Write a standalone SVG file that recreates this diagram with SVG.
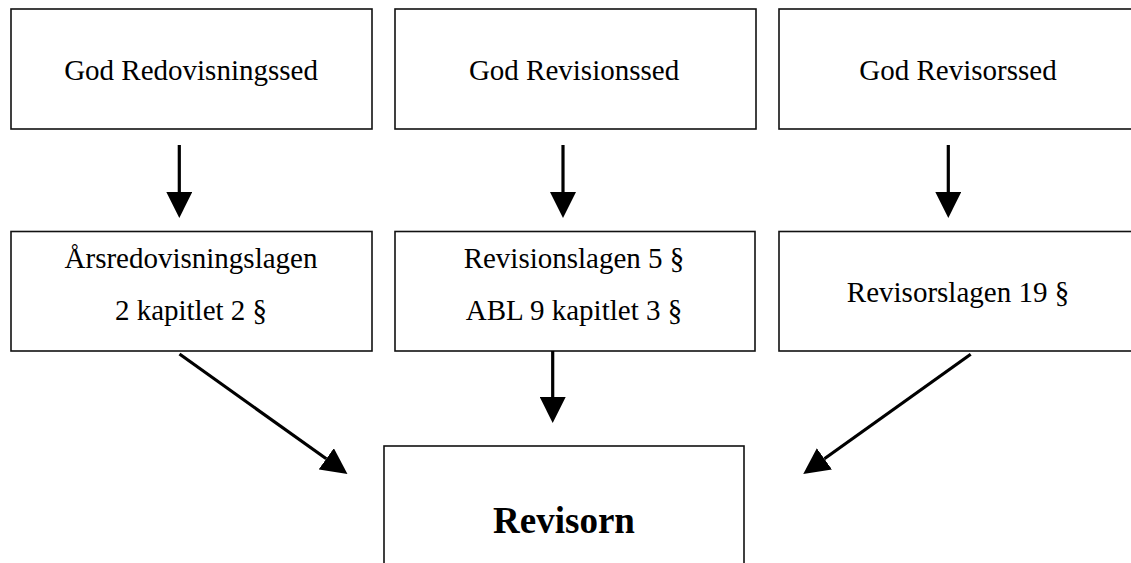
<svg xmlns="http://www.w3.org/2000/svg" width="1131" height="563" viewBox="0 0 1131 563">
<style>
.box{fill:#fff;stroke:#111;stroke-width:1.6}
.t{font-family:"Liberation Serif","Times New Roman",serif;font-size:29px;fill:#000;text-anchor:middle}
.b{font-family:"Liberation Serif","Times New Roman",serif;font-size:37px;font-weight:bold;fill:#000;text-anchor:middle}
.c{stroke:#000;stroke-width:3.2;fill:none;marker-end:url(#ah)}
</style>
<defs>
<marker id="ah" markerUnits="userSpaceOnUse" markerWidth="26" markerHeight="26" refX="0" refY="13" orient="auto" viewBox="0 0 26 26">
<path d="M0,0 L26,13 L0,26 z" fill="#000"/>
</marker>
</defs>
<rect width="1131" height="563" fill="#fff"/>
<g id="n-god-redovisningssed"><rect class="box" x="11" y="9" width="361" height="120"/><text class="t" x="191" y="80">God Redovisningssed</text></g>
<g id="n-god-revisionssed"><rect class="box" x="395" y="9" width="361" height="120"/><text class="t" x="574" y="80">God Revisionssed</text></g>
<g id="n-god-revisorssed"><rect class="box" x="779" y="9" width="358" height="120"/><text class="t" x="958" y="80">God Revisorssed</text></g>
<g id="n-arsredovisningslagen"><rect class="box" x="11" y="231.5" width="361" height="119.5"/><text class="t" x="191" y="268">Årsredovisningslagen</text><text class="t" x="191" y="320">2 kapitlet 2 §</text></g>
<g id="n-revisionslagen"><rect class="box" x="395" y="231.5" width="360" height="119.5"/><text class="t" x="574" y="268">Revisionslagen 5 §</text><text class="t" x="574" y="320">ABL 9 kapitlet 3 §</text></g>
<g id="n-revisorslagen"><rect class="box" x="779" y="231.5" width="358" height="119.5"/><text class="t" x="958" y="302">Revisorslagen 19 §</text></g>
<g id="n-revisorn"><rect class="box" x="384" y="446" width="360" height="130"/><text class="b" x="564" y="533">Revisorn</text></g>
<g id="connectors">
<line class="c" x1="179.3" y1="145" x2="179.3" y2="192"/>
<line class="c" x1="563" y1="145" x2="563" y2="192"/>
<line class="c" x1="948.3" y1="145" x2="948.3" y2="192"/>
<line class="c" x1="552.7" y1="351" x2="552.7" y2="397"/>
<line class="c" x1="179.5" y1="354" x2="326.3" y2="458.8"/>
<line class="c" x1="970.7" y1="354.3" x2="824.4" y2="458.8"/>
</g>
</svg>
